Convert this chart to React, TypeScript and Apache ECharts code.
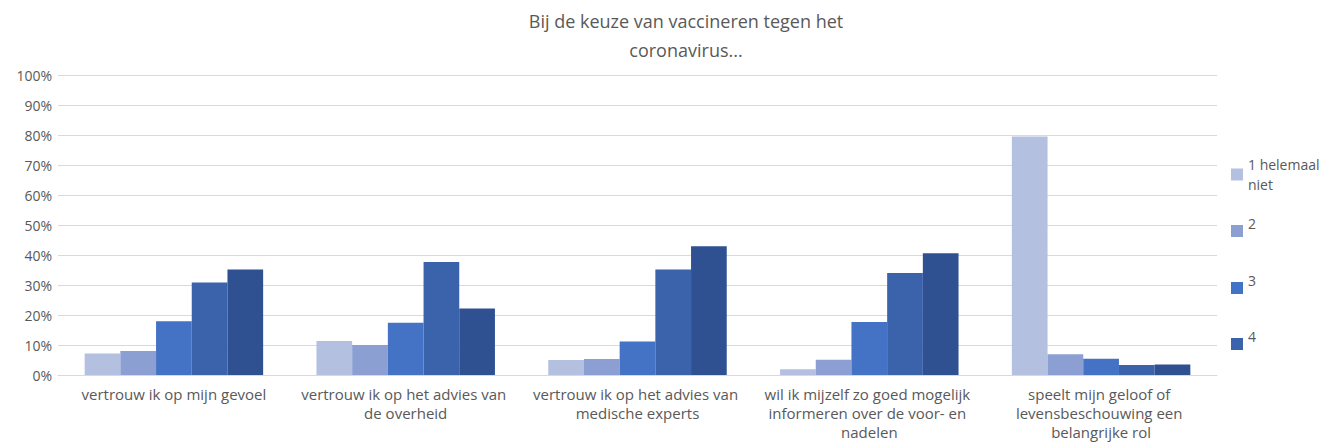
import React, { useEffect, useRef } from "react";
import * as echarts from "echarts";

const categories = [
  "vertrouw ik op mijn gevoel",
  "vertrouw ik op het advies van de overheid",
  "vertrouw ik op het advies van medische experts",
  "wil ik mijzelf zo goed mogelijk informeren over de voor- en nadelen",
  "speelt mijn geloof of levensbeschouwing een belangrijke rol",
];
const seriesNames = ["1 helemaal niet", "2", "3", "4", "5"];
const s1 = [7.2, 11.3, 5.0, 1.9, 79.5];
const s2 = [8.0, 10.0, 5.3, 5.1, 6.9];
const s3 = [17.9, 17.4, 11.2, 17.7, 5.4];
const s4 = [30.8, 37.7, 35.2, 34.0, 3.3];
const s5 = [35.2, 22.2, 42.9, 40.6, 3.5];
const seriesValues = [s1, s2, s3, s4, s5];
const colors = ["#b4c0e0", "#8c9fd2", "#4472c4", "#3b63ac", "#2f5192"];
const titleText = "Bij de keuze van vaccineren tegen het\ncoronavirus...";

const FONT = "Open Sans";
const GRAY = "#595959";

export default function App() {
  const ref = useRef<HTMLDivElement>(null);
  useEffect(() => {
    if (!ref.current) return;
    const chart = echarts.init(ref.current, null, { renderer: "svg" });
    const legendCenters = [174.5, 231, 288, 344];
    const legends = seriesNames.slice(0, 4).map((name, i) => {
      const first = i === 0;
      return {
        data: [name],
        orient: "vertical",
        left: 1231,
        top: first ? legendCenters[i] - 20 : legendCenters[i] - 16,
        padding: 0,
        itemWidth: 12,
        itemHeight: 12,
        icon: "rect",
        itemStyle: { borderWidth: 0 },
        selectedMode: false,
        formatter: first
          ? (n: string) => n.replace(/ (\S+)$/, "\n$1")
          : (n: string) => n + "\n ",
        textStyle: {
          fontFamily: FONT,
          fontSize: 14,
          color: GRAY,
          lineHeight: first ? 20 : 16,
        },
        itemGap: 0,
      };
    });
    chart.setOption({
      animation: false,
      backgroundColor: "#ffffff",
      color: colors,
      title: {
        text: titleText,
        left: 686,
        textAlign: "center",
        top: 6,
        padding: 0,
        textStyle: {
          fontFamily: FONT,
          fontSize: 18,
          fontWeight: "normal",
          color: GRAY,
          lineHeight: 29,
        },
      },
      legend: legends,
      grid: { left: 58, right: 111, top: 75, bottom: 71 },
      xAxis: {
        type: "category",
        data: categories,
        axisLine: { show: true, lineStyle: { color: "#d9d9d9", width: 1 } },
        axisTick: { show: false },
        axisLabel: {
          interval: 0,
          margin: 9,
          fontFamily: FONT,
          fontSize: 15,
          color: GRAY,
          lineHeight: 19,
          width: 215,
          overflow: "break",
        },
      },
      yAxis: {
        type: "value",
        min: 0,
        max: 100,
        interval: 10,
        axisLine: { show: false },
        axisTick: { show: false },
        splitLine: { lineStyle: { color: "#d9d9d9", width: 1 } },
        axisLabel: {
          formatter: "{value}%",
          margin: 6,
          fontFamily: FONT,
          fontSize: 14,
          color: GRAY,
        },
      },
      series: seriesNames.map((name, i) => ({
        name,
        type: "bar",
        data: seriesValues[i],
        barGap: "0%",
        barCategoryGap: "23%",
        itemStyle: { color: colors[i] },
      })),
    });
    return () => chart.dispose();
  }, []);
  return (
    <div
      ref={ref}
      style={{ position: "fixed", left: 0, top: 0, width: 1328, height: 446, background: "#fff" }}
    />
  );
}
